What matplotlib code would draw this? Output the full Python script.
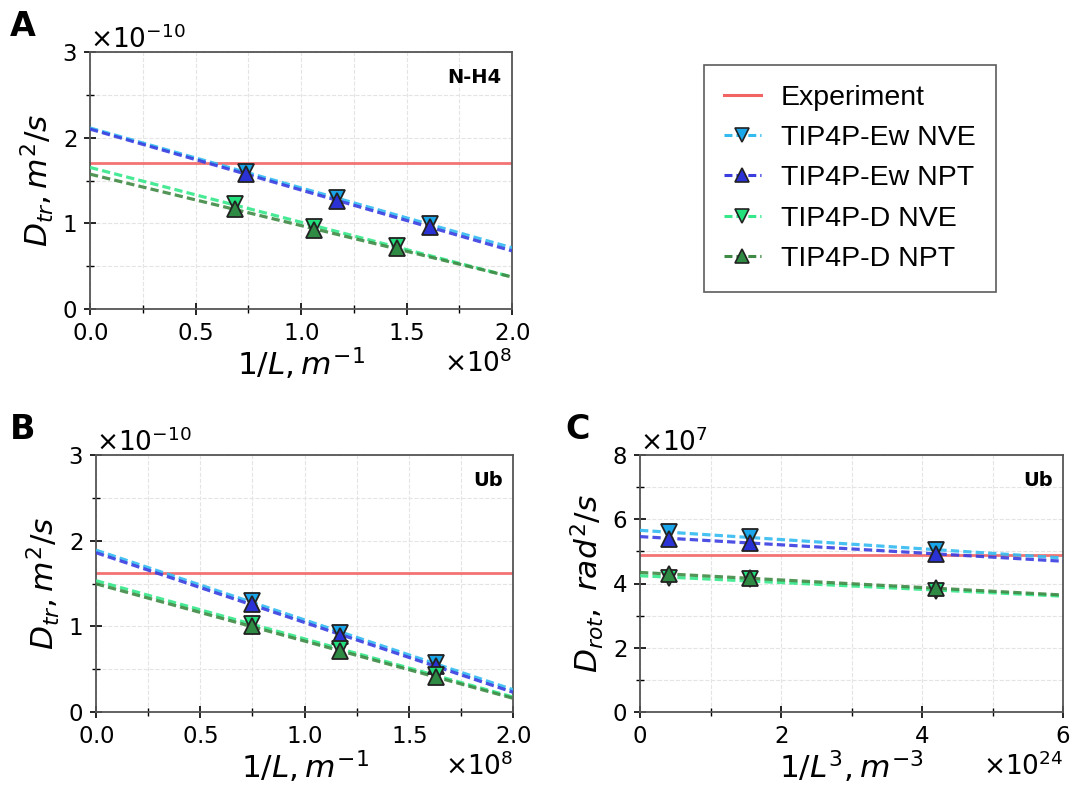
import matplotlib
matplotlib.use("Agg")
import matplotlib.pyplot as plt
import numpy as np
from matplotlib.ticker import MultipleLocator, ScalarFormatter

# ---- data ----
# Panel A: N-H4, 1/L in 1e8 m^-1, D_tr in 1e-10 m^2/s
a_x_ew = [0.738, 1.169, 1.610]
a_x_d = [0.687, 1.063, 1.453]
a_ew_nve = [1.60, 1.29, 0.99]
a_ew_npt = [1.58, 1.26, 0.96]
a_d_nve = [1.22, 0.96, 0.73]
a_d_npt = [1.17, 0.92, 0.71]
a_exp = 1.70

# Panel B: Ub, translational
b_x = [0.747, 1.170, 1.630]
b_ew_nve = [1.29, 0.92, 0.57]
b_ew_npt = [1.26, 0.89, 0.54]
b_d_nve = [1.03, 0.73, 0.43]
b_d_npt = [1.00, 0.71, 0.41]
b_exp = 1.625

# Panel C: Ub, rotational, 1/L^3 in 1e24 m^-3, D_rot in 1e7 rad^2/s
c_x = [0.416, 1.56, 4.20]
c_ew_nve = [5.59, 5.44, 5.05]
c_ew_npt = [5.40, 5.27, 4.92]
c_d_nve = [4.16, 4.13, 3.78]
c_d_npt = [4.29, 4.17, 3.85]
c_exp = 4.89

labels = ["TIP4P-Ew NVE", "TIP4P-Ew NPT", "TIP4P-D NVE", "TIP4P-D NPT"]
line_colors = ["#33bbf0", "#3a3ee0", "#35e88a", "#3f8a45"]
face_colors = ["#1aa6ea", "#2a32d6", "#22e07c", "#2f8a44"]
markers = ["v", "^", "v", "^"]
exp_color = "#f26464"
dash = (0, (2.6, 1.3))

W, H = 1073, 796
fig = plt.figure(figsize=(W / 100, H / 100), dpi=100)


def frac(left, top, right, bottom):
    return [left / W, 1 - bottom / H, (right - left) / W, (bottom - top) / H]


def panel(ax, xs_list, ys_list, exp, xmax, xscale, yscale, ymax,
          xmaj, xmin, ymaj, ymin, xlabel, ylabel, tag):
    ax.axhline(exp * yscale, color=exp_color, lw=2, alpha=0.9, zorder=2)
    xfit = np.array([0.0, xmax])
    for i in range(4):
        xs = np.array(xs_list[i])
        ys = np.array(ys_list[i])
        k, b = np.polyfit(xs, ys, 1)
        ax.plot(xfit * xscale, (k * xfit + b) * yscale, color=line_colors[i],
                lw=2.3, ls=dash, alpha=0.9, zorder=3)
    for i in range(4):
        xs = np.array(xs_list[i])
        ys = np.array(ys_list[i])
        ax.plot(xs * xscale, ys * yscale, ls="none", marker=markers[i],
                ms=11.5, mfc=face_colors[i], mec="#222222", mew=1.3, zorder=4)
    ax.set_xlim(0, xmax * xscale)
    ax.set_ylim(0, ymax * yscale)
    ax.xaxis.set_major_locator(MultipleLocator(xmaj * xscale))
    ax.xaxis.set_minor_locator(MultipleLocator(xmin * xscale))
    ax.yaxis.set_major_locator(MultipleLocator(ymaj * yscale))
    ax.yaxis.set_minor_locator(MultipleLocator(ymin * yscale))
    for axis in (ax.xaxis, ax.yaxis):
        fmt = ScalarFormatter(useMathText=True)
        fmt.set_powerlimits((0, 0))
        axis.set_major_formatter(fmt)
        axis.get_offset_text().set_fontsize(19)
    ax.tick_params(which="major", direction="inout", length=9, width=1.2,
                   labelsize=16.5, pad=5)
    ax.tick_params(which="minor", direction="inout", length=6, width=1.0)
    ax.grid(True, which="both", color="#e4e4e4", ls="--", lw=0.8)
    ax.set_axisbelow(True)
    for sp in ax.spines.values():
        sp.set_color("#555555")
        sp.set_linewidth(1.3)
    ax.set_xlabel(xlabel, fontsize=22.5, labelpad=0)
    ax.set_ylabel(ylabel, fontsize=22.5, labelpad=4)
    ax.text(0.975, 0.9, tag, transform=ax.transAxes, ha="right", va="center",
            fontsize=14, fontweight="bold")


axA = fig.add_axes(frac(90, 52, 512, 309))
panel(axA, [a_x_ew, a_x_ew, a_x_d, a_x_d],
      [a_ew_nve, a_ew_npt, a_d_nve, a_d_npt], a_exp,
      2.0, 1e8, 1e-10, 3.0, 0.5, 0.25, 1.0, 0.5,
      r"$1/L, m^{-1}$", r"$D_{tr}, m^2/s$", "N-H4")

axB = fig.add_axes(frac(96, 455, 513, 712))
panel(axB, [b_x] * 4, [b_ew_nve, b_ew_npt, b_d_nve, b_d_npt], b_exp,
      2.0, 1e8, 1e-10, 3.0, 0.5, 0.25, 1.0, 0.5,
      r"$1/L, m^{-1}$", r"$D_{tr}, m^2/s$", "Ub")

axC = fig.add_axes(frac(640, 455, 1063, 712))
panel(axC, [c_x] * 4, [c_ew_nve, c_ew_npt, c_d_nve, c_d_npt], c_exp,
      6.0, 1e24, 1e7, 8.0, 2.0, 1.0, 2.0, 1.0,
      r"$1/L^3, m^{-3}$", r"$D_{rot},\ rad^2/s$", "Ub")

# panel letters
for letter, x, y in [("A", 10, 27), ("B", 10, 430), ("C", 565, 430)]:
    fig.text(x / W, 1 - y / H, letter, fontsize=24, fontweight="bold",
             ha="left", va="center")

# legend
handles = [plt.Line2D([], [], color=exp_color, lw=2.2)]
for i in range(4):
    handles.append(plt.Line2D([], [], color=line_colors[i], lw=2.2,
                              ls=dash, marker=markers[i], ms=10,
                              mfc=face_colors[i], mec="#222222", mew=1.2))
leg = fig.legend(handles, ["Experiment"] + labels,
                 loc="upper left", bbox_to_anchor=(704 / W, 1 - 65 / H),
                 prop={"family": "Liberation Sans", "size": 20.5},
                 frameon=True, fancybox=False, labelspacing=0.5,
                 handlelength=1.3, borderpad=0.7, handletextpad=0.7,
                 borderaxespad=0)
leg.get_frame().set_edgecolor("#333333")
leg.get_frame().set_linewidth(1.2)

fig.savefig("out.png", dpi=100)
